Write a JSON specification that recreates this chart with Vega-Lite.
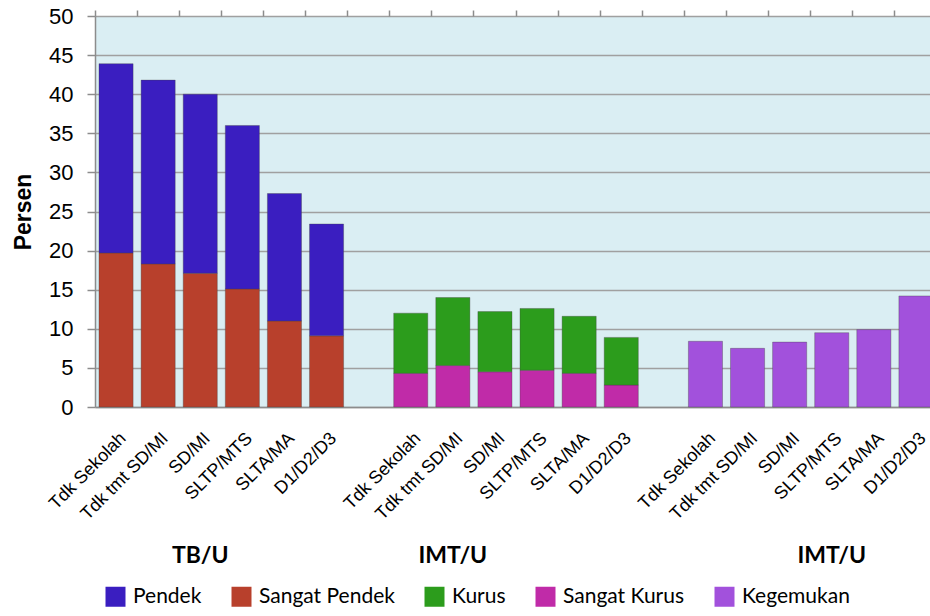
{
  "$schema": "https://vega.github.io/schema/vega-lite/v6.json",
  "width": 835,
  "height": 391,
  "autosize": {"type": "none"},
  "padding": {"left": 95, "top": 16, "right": 0, "bottom": 209},
  "background": "white",
  "view": {"fill": "#DAEEF3", "stroke": null},
  "config": {
    "font": "Liberation Sans",
    "axisY": {
      "titleFontSize": 23,
      "titleFontWeight": "bold",
      "titleColor": "black",
      "titlePadding": 13,
      "labelFontSize": 22,
      "labelColor": "black",
      "labelPadding": 14,
      "tickSize": 8,
      "tickColor": "#8C8C8C",
      "tickWidth": 1.5,
      "domainColor": "#8C8C8C",
      "domainWidth": 1.5,
      "gridColor": "#A0A0A0",
      "gridWidth": 1.5
    }
  },
  "layer": [
    {
      "data": {
        "values": [
          {"key": "1|Tdk Sekolah", "jenis": "Sangat Pendek", "nilai": 19.7},
          {"key": "1|Tdk Sekolah", "jenis": "Pendek", "nilai": 24.2},
          {"key": "1|Tdk tmt SD/MI", "jenis": "Sangat Pendek", "nilai": 18.3},
          {"key": "1|Tdk tmt SD/MI", "jenis": "Pendek", "nilai": 23.5},
          {"key": "1|SD/MI", "jenis": "Sangat Pendek", "nilai": 17.1},
          {"key": "1|SD/MI", "jenis": "Pendek", "nilai": 22.9},
          {"key": "1|SLTP/MTS", "jenis": "Sangat Pendek", "nilai": 15.1},
          {"key": "1|SLTP/MTS", "jenis": "Pendek", "nilai": 20.9},
          {"key": "1|SLTA/MA", "jenis": "Sangat Pendek", "nilai": 11.0},
          {"key": "1|SLTA/MA", "jenis": "Pendek", "nilai": 16.3},
          {"key": "1|D1/D2/D3", "jenis": "Sangat Pendek", "nilai": 9.1},
          {"key": "1|D1/D2/D3", "jenis": "Pendek", "nilai": 14.3},
          {"key": "2|Tdk Sekolah", "jenis": "Sangat Kurus", "nilai": 4.3},
          {"key": "2|Tdk Sekolah", "jenis": "Kurus", "nilai": 7.7},
          {"key": "2|Tdk tmt SD/MI", "jenis": "Sangat Kurus", "nilai": 5.3},
          {"key": "2|Tdk tmt SD/MI", "jenis": "Kurus", "nilai": 8.7},
          {"key": "2|SD/MI", "jenis": "Sangat Kurus", "nilai": 4.5},
          {"key": "2|SD/MI", "jenis": "Kurus", "nilai": 7.7},
          {"key": "2|SLTP/MTS", "jenis": "Sangat Kurus", "nilai": 4.7},
          {"key": "2|SLTP/MTS", "jenis": "Kurus", "nilai": 7.9},
          {"key": "2|SLTA/MA", "jenis": "Sangat Kurus", "nilai": 4.3},
          {"key": "2|SLTA/MA", "jenis": "Kurus", "nilai": 7.3},
          {"key": "2|D1/D2/D3", "jenis": "Sangat Kurus", "nilai": 2.8},
          {"key": "2|D1/D2/D3", "jenis": "Kurus", "nilai": 6.1},
          {"key": "3|Tdk Sekolah", "jenis": "Kegemukan", "nilai": 8.4},
          {"key": "3|Tdk tmt SD/MI", "jenis": "Kegemukan", "nilai": 7.5},
          {"key": "3|SD/MI", "jenis": "Kegemukan", "nilai": 8.3},
          {"key": "3|SLTP/MTS", "jenis": "Kegemukan", "nilai": 9.5},
          {"key": "3|SLTA/MA", "jenis": "Kegemukan", "nilai": 9.9},
          {"key": "3|D1/D2/D3", "jenis": "Kegemukan", "nilai": 14.2}
        ]
      },
      "mark": {"type": "bar", "width": {"band": 0.81}, "stroke": "#444444", "strokeWidth": 0.6, "strokeOpacity": 0.6},
      "encoding": {
        "x": {
          "field": "key",
          "type": "nominal",
          "sort": null,
          "scale": {
            "domain": ["1|Tdk Sekolah", "1|Tdk tmt SD/MI", "1|SD/MI", "1|SLTP/MTS", "1|SLTA/MA", "1|D1/D2/D3", "g1|",
                       "2|Tdk Sekolah", "2|Tdk tmt SD/MI", "2|SD/MI", "2|SLTP/MTS", "2|SLTA/MA", "2|D1/D2/D3", "g2|",
                       "3|Tdk Sekolah", "3|Tdk tmt SD/MI", "3|SD/MI", "3|SLTP/MTS", "3|SLTA/MA", "3|D1/D2/D3"],
            "range": [0, 842],
            "paddingInner": 0,
            "paddingOuter": 0
          },
          "axis": {
            "title": null,
            "labelExpr": "split(datum.label, '|')[1]",
            "labelAngle": -45,
            "labelAlign": "right",
            "labelBaseline": "top",
            "labelFontSize": 18,
            "labelColor": "black",
            "labelPadding": 22,
            "labelOffset": 1,
            "labelOverlap": false,
            "ticks": false,
            "grid": false,
            "domainColor": "#8C8C8C",
            "domainWidth": 1.5
          }
        },
        "y": {
          "field": "nilai",
          "type": "quantitative",
          "stack": "zero",
          "scale": {"domain": [0, 50], "nice": false},
          "axis": {
            "title": "Persen",
            "values": [0, 5, 10, 15, 20, 25, 30, 35, 40, 45, 50],
            "labelOverlap": false
          }
        },
        "color": {
          "field": "jenis",
          "type": "nominal",
          "scale": {
            "domain": ["Pendek", "Sangat Pendek", "Kurus", "Sangat Kurus", "Kegemukan"],
            "range": ["#3A1EC0", "#B8402C", "#2C9C1C", "#C02BA8", "#A251DC"]
          },
          "legend": {
            "orient": "none",
            "legendX": 10,
            "legendY": 570,
            "direction": "horizontal",
            "title": null,
            "symbolType": "square",
            "symbolSize": 400,
            "symbolStrokeWidth": 0,
            "symbolOpacity": 1,
            "labelFont": "Lato",
            "labelFontSize": 21,
            "labelColor": "black",
            "labelOffset": 7,
            "columnPadding": 29
          }
        },
        "order": {"field": "jenis", "sort": "descending"}
      }
    },
    {
      "data": {
        "values": [
          {"key": "1|SD/MI", "judul": "TB/U"},
          {"key": "2|Tdk tmt SD/MI", "judul": "IMT/U"},
          {"key": "3|SLTP/MTS", "judul": "IMT/U"}
        ]
      },
      "mark": {"type": "text", "font": "Lato", "fontWeight": "bold", "fontSize": 23, "color": "black", "baseline": "middle"},
      "encoding": {
        "x": {
          "field": "key",
          "type": "nominal",
          "axis": {
            "title": null,
            "labels": false,
            "domain": false,
            "ticks": true,
            "tickSize": 6,
            "tickColor": "#8C8C8C",
            "tickWidth": 1.5,
            "bandPosition": 0,
            "grid": false
          }
        },
        "y": {
          "datum": -19,
          "type": "quantitative",
          "axis": {
            "title": "Persen",
            "values": [0, 5, 10, 15, 20, 25, 30, 35, 40, 45, 50],
            "labelOverlap": false
          }
        },
        "text": {"field": "judul"}
      }
    }
  ],
  "resolve": {"axis": {"x": "independent"}}
}
